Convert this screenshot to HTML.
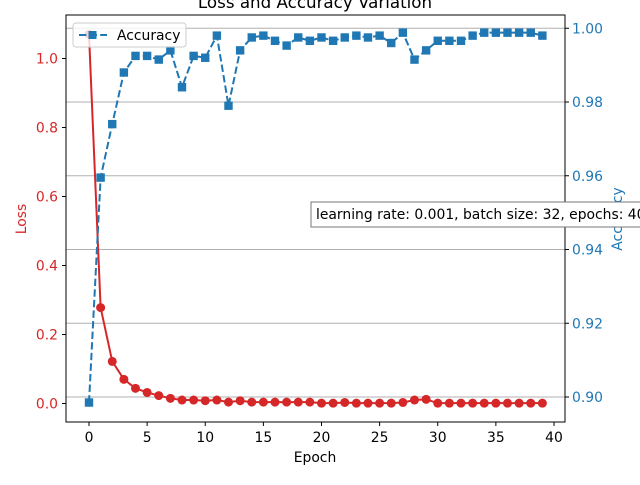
<!DOCTYPE html>
<html><head><meta charset="utf-8"><style>
body{margin:0;background:#fff}
svg text{font-family:"DejaVu Sans","Liberation Sans",sans-serif}
</style></head><body>
<svg id="chart" width="640" height="480" viewBox="0 0 640 480" xmlns="http://www.w3.org/2000/svg">
<text x="315" y="8" font-size="16.7" text-anchor="middle">Loss and Accuracy Variation</text>
<g id="grid"></g>
<g id="lossG"></g>
<g id="accG"></g>
<rect x="66" y="15" width="499" height="407" fill="none" stroke="#000" stroke-width="1"/>
<g id="axes"></g>
<text x="315" y="462" font-size="13.9" text-anchor="middle">Epoch</text>
<text transform="translate(26,219) rotate(-90)" font-size="13.9" fill="#d62728" text-anchor="middle">Loss</text>
<text transform="translate(622,219) rotate(-90)" font-size="13.9" fill="#1f77b4" text-anchor="middle">Accuracy</text>
<g>
<rect x="73" y="23" width="113" height="24" rx="3" fill="#fff" fill-opacity="0.8" stroke="#ccc"/>
<line x1="79" y1="35" x2="107" y2="35" stroke="#1f77b4" stroke-width="2" stroke-dasharray="7.4,3.2"/>
<rect x="88.5" y="31" width="8" height="8" fill="#1f77b4"/>
<text x="117" y="40" font-size="13.9">Accuracy</text>
</g>
<g>
<rect x="311" y="202" width="340" height="25" fill="#fff" stroke="#777"/>
<text x="316" y="219" font-size="13.9">learning rate: 0.001, batch size: 32, epochs: 40</text>
</g>
</svg>
<script>
const epochs = Array.from({length:40},(_,i)=>i);
const lossValues = [1.07,0.278,0.122,0.07,0.044,0.032,0.023,0.015,0.01,0.01,0.008,0.01,0.004,0.008,0.004,0.004,0.004,0.004,0.004,0.004,0.001,0.001,0.003,0.001,0.001,0.001,0.001,0.003,0.01,0.012,0.001,0.001,0.001,0.001,0.001,0.001,0.001,0.001,0.001,0.001];
const accValues = [0.8985,0.9595,0.974,0.988,0.9925,0.9925,0.9915,0.994,0.984,0.9925,0.992,0.998,0.979,0.994,0.9975,0.998,0.9966,0.9953,0.9975,0.9966,0.9975,0.9966,0.9975,0.998,0.9975,0.998,0.996,0.9988,0.9915,0.994,0.9966,0.9966,0.9966,0.998,0.9988,0.9988,0.9988,0.9988,0.9988,0.998];
const xTicks = [0,5,10,15,20,25,30,35,40];
const lossTicks = [0,0.2,0.4,0.6,0.8,1.0];
const accTicks = [0.90,0.92,0.94,0.96,0.98,1.00];
const NS='http://www.w3.org/2000/svg';
const X = v => 89 + v*11.625;
const YL = v => 403.5 - v*345;
const YR = v => 397 - (v-0.90)*3687.5;
function mk(tag, attrs, parent){const e=document.createElementNS(NS,tag);for(const k in attrs)e.setAttribute(k,attrs[k]);parent.appendChild(e);return e;}
const grid=document.getElementById('grid'), axes=document.getElementById('axes');
const lossG=document.getElementById('lossG'), accG=document.getElementById('accG');
accTicks.forEach(t=>{
  const g=mk('line',{x1:66,x2:565,y1:YR(t),y2:YR(t),stroke:'#b0b0b0','stroke-width':1},grid);
  
  
  mk('line',{x1:565,x2:569,y1:YR(t),y2:YR(t),stroke:'#000'},axes);
  const tx=mk('text',{x:572,y:YR(t)+5,'font-size':13.9,fill:'#1f77b4'},axes);
  tx.textContent=t.toFixed(2);
  
  
});
lossTicks.forEach(t=>{
  mk('line',{x1:62,x2:66,y1:YL(t),y2:YL(t),stroke:'#000'},axes);
  const tx=mk('text',{x:58,y:YL(t)+5,'font-size':13.9,fill:'#d62728','text-anchor':'end'},axes);
  tx.textContent=t.toFixed(1);
  
  
});
xTicks.forEach(t=>{
  mk('line',{x1:X(t),x2:X(t),y1:422,y2:426,stroke:'#000'},axes);
  const tx=mk('text',{x:X(t),y:442,'font-size':13.9,'text-anchor':'middle'},axes);
  tx.textContent=t;
  
  
});
const lp=mk('polyline',{points:epochs.map((e,i)=>X(e)+','+YL(lossValues[i])).join(' '),fill:'none',stroke:'#d62728','stroke-width':2},lossG);


epochs.forEach((e,i)=>{
  const c=mk('circle',{cx:X(e),cy:YL(lossValues[i]),r:4.5,fill:'#d62728'},lossG);
  
  
});
const ap=mk('polyline',{points:epochs.map((e,i)=>X(e)+','+YR(accValues[i])).join(' '),fill:'none',stroke:'#1f77b4','stroke-width':2,'stroke-dasharray':'7.4,3.2'},accG);


epochs.forEach((e,i)=>{
  const r=mk('rect',{x:X(e)-4.2,y:YR(accValues[i])-4.2,width:8.4,height:8.4,fill:'#1f77b4'},accG);
  
  
});
</script>
</body></html>
